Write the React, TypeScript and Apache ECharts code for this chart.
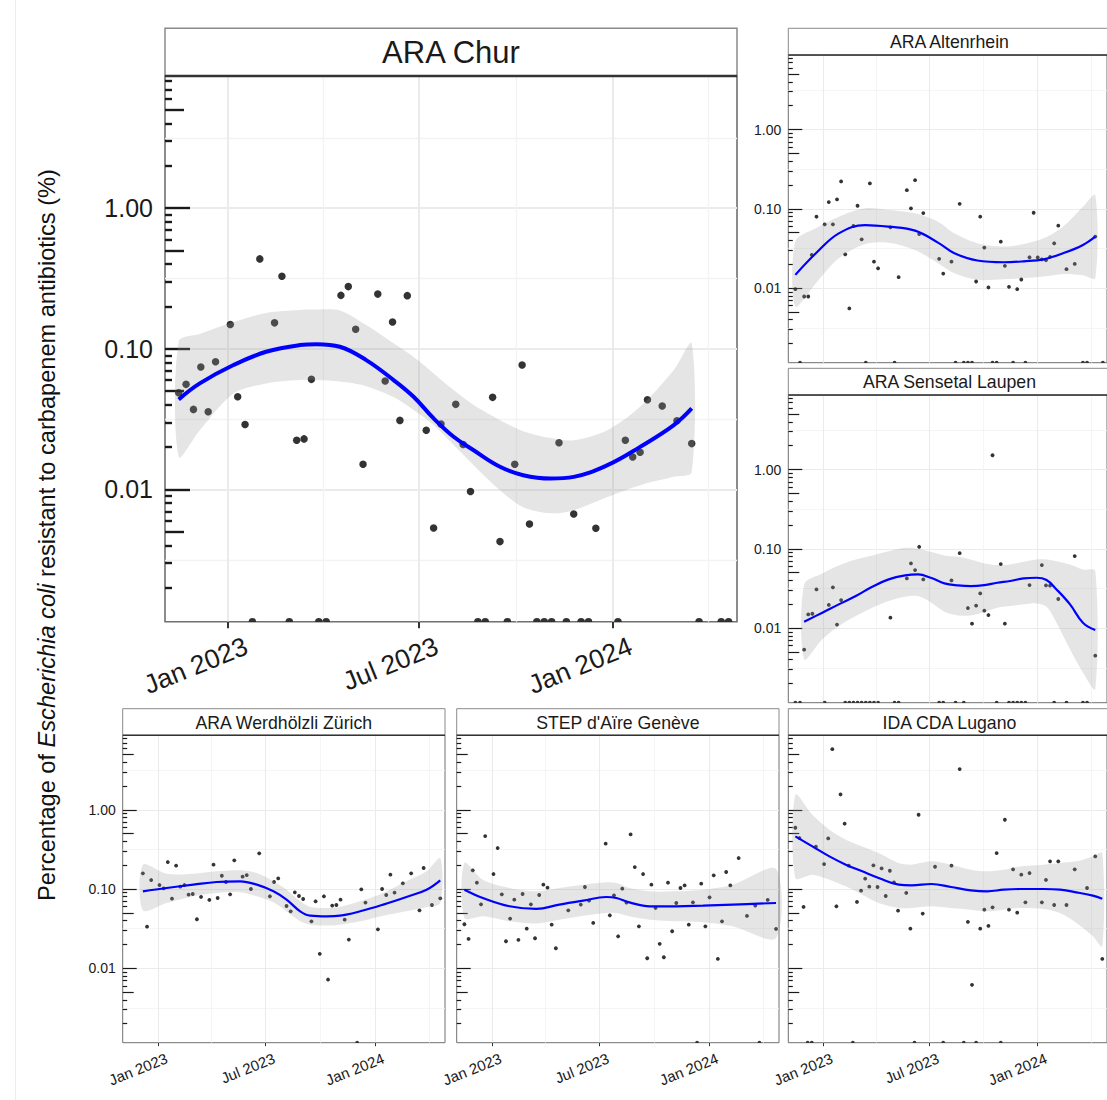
import React, { useEffect, useRef } from 'react';
import * as echarts from 'echarts';

// ---------------- ARA Chur ----------------
const churDates = ['2022-11-15','2022-11-22','2022-11-29','2022-12-06','2022-12-13','2022-12-20',
'2023-01-03','2023-01-10','2023-01-17','2023-01-24','2023-01-31','2023-02-14','2023-02-21','2023-02-28',
'2023-03-07','2023-03-14','2023-03-21','2023-03-28','2023-04-04','2023-04-18','2023-04-25',
'2023-05-02','2023-05-09','2023-05-23','2023-05-30','2023-06-06','2023-06-13','2023-06-20',
'2023-07-08','2023-07-15','2023-07-22','2023-08-05','2023-08-12','2023-08-19','2023-08-26',
'2023-09-02','2023-09-09','2023-09-16','2023-09-23','2023-09-30','2023-10-07','2023-10-14','2023-10-21','2023-10-28',
'2023-11-04','2023-11-11','2023-11-18','2023-11-25','2023-12-02','2023-12-09','2023-12-16',
'2024-01-06','2024-01-13','2024-01-20','2024-01-27','2024-02-03','2024-02-17',
'2024-03-02','2024-03-16','2024-03-23','2024-04-13','2024-04-20'];
const churValues = [0.0487,0.0559,0.0371,0.0742,0.0357,0.081,
0.149,0.0456,0.029,0,0.436,0.153,0.328,0,
0.0224,0.0229,0.0607,0,0,0.24,0.277,
0.138,0.0151,0.245,0.059,0.155,0.031,0.239,
0.0264,0.00533,0.0292,0.0403,0.0209,0.00968,0,
0,0.0452,0.00426,0,0.0151,0.0767,0.00569,0,0,
0,0.0215,0,0.0067,0,0,0.0053,
0,0.0224,0.017,0.0184,0.0434,0.0392,
0.0308,0.0212,0,0,0];
const churFitDates = ['2022-11-15','2022-12-05','2023-01-06','2023-02-06','2023-03-10','2023-03-26','2023-04-17',
'2023-05-12','2023-06-07','2023-06-26','2023-07-15','2023-08-03','2023-08-22','2023-09-16','2023-10-08',
'2023-11-03','2023-11-25','2023-12-27','2024-01-27','2024-02-28','2024-03-16'];
const churFit = [0.0437,0.0568,0.0767,0.0953,0.1064,0.108,0.1035,0.0832,0.06,0.0456,0.032,0.0237,0.019,0.0145,0.01264,0.01197,0.0123,0.0149,0.0201,0.0287,0.0377];
const churUpper = [0.1124,0.1274,0.155,0.18,0.189,0.1904,0.1873,0.1477,0.1094,0.0874,0.0669,0.0509,0.0398,0.0311,0.026,0.0232,0.0224,0.0264,0.0387,0.0706,0.1094];
const churLower = [0.0171,0.0264,0.0482,0.0568,0.06,0.06,0.0585,0.0543,0.0454,0.0367,0.0287,0.0207,0.0149,0.00988,0.00748,0.00678,0.00713,0.00885,0.01074,0.0123,0.0133];

// ---------------- ARA Altenrhein ----------------
const altDates = ['2022-11-14','2022-11-22','2022-11-29','2022-12-06','2022-12-12','2022-12-20',
'2023-01-03','2023-01-10','2023-01-17','2023-01-24','2023-01-31','2023-02-07','2023-02-14','2023-02-21','2023-02-28',
'2023-03-07','2023-03-14','2023-03-21','2023-03-28','2023-04-04','2023-04-25',
'2023-05-02','2023-05-09','2023-05-23','2023-05-30','2023-06-06','2023-06-13','2023-06-20',
'2023-07-17','2023-07-24','2023-08-07','2023-08-14','2023-08-21','2023-08-28',
'2023-09-04','2023-09-11','2023-09-18','2023-09-25','2023-10-02','2023-10-09','2023-10-16','2023-10-23','2023-10-30',
'2023-11-06','2023-11-13','2023-11-20','2023-11-27','2023-12-04','2023-12-11','2023-12-18','2023-12-25',
'2024-01-01','2024-01-08','2024-01-15','2024-01-22','2024-01-29','2024-02-05','2024-02-19',
'2024-03-04','2024-03-18','2024-03-25','2024-04-08','2024-04-21'];
const altValues = [0.0097,0,0.00785,0.00785,0.0262,0.0796,
0.0638,0.1216,0.0638,0.1315,0.2215,0.0267,0.00555,0.0608,0.1094,
0.0413,0,0.2094,0.0216,0.0178,0.0585,
0,0.01375,0.172,0.1014,0.2302,0.0482,0.0885,
0.0234,0.01528,0.0216,0,0.1158,0,
0,0,0.01213,0.0796,0.0325,0.0102,0,0,0.0386,
0.0191,0.0104,0,0.0097,0.01285,0,0.0245,0.0893,
0.0244,0.0231,0.0225,0.0248,0.0368,0.0614,0.01734,
0.0202,0,0,0.0447,0];
const altFitDates = ['2022-11-14','2022-12-19','2023-01-27','2023-03-13','2023-04-22','2023-06-06','2023-07-15','2023-08-12',
'2023-09-20','2023-11-04','2023-12-08','2024-01-11','2024-02-13','2024-03-18','2024-04-08'];
const altFit = [0.0147,0.0275,0.0491,0.0625,0.0596,0.0531,0.0375,0.0275,0.0223,0.0212,0.0218,0.0231,0.0275,0.0351,0.0447];
const altUpper = [0.0386,0.0568,0.0796,0.1014,0.0966,0.0877,0.0689,0.0491,0.0368,0.0334,0.036,0.0425,0.0596,0.1064,0.149];
const altLower = [0.00588,0.01156,0.0238,0.036,0.0375,0.0303,0.0206,0.0154,0.01273,0.01297,0.01336,0.014,0.0151,0.01456,0.01336];

// ---------------- ARA Sensetal Laupen ----------------
const senDates = ['2022-11-14','2022-11-22','2022-11-29','2022-12-06','2022-12-13','2022-12-20',
'2023-01-03','2023-01-10','2023-01-17','2023-01-24','2023-01-31','2023-02-07','2023-02-14','2023-02-21','2023-02-28',
'2023-03-07','2023-03-14','2023-03-21','2023-03-28','2023-04-04','2023-04-25',
'2023-05-02','2023-05-09','2023-05-23','2023-05-30','2023-06-06','2023-06-13','2023-06-20',
'2023-07-17','2023-07-24','2023-08-07','2023-08-14','2023-08-21','2023-08-28',
'2023-09-04','2023-09-11','2023-09-18','2023-09-25','2023-10-02','2023-10-09','2023-10-16','2023-10-23','2023-10-30',
'2023-11-06','2023-11-13','2023-11-20','2023-11-27','2023-12-04','2023-12-11','2023-12-18',
'2024-01-08','2024-01-15','2024-01-22','2024-01-29','2024-02-05','2024-02-19',
'2024-03-04','2024-03-18','2024-03-25','2024-04-08'];
const senValues = [0,0,0.00536,0.0149,0.0152,0.0308,
0,0.0196,0.0327,0.0111,0.0226,0,0,0,0,
0,0,0,0,0,0.01355,
0,0,0.0424,0.0655,0.054,0.1062,0.0412,
0,0,0.04,0,0.0883,0,
0.01794,0.01138,0.0192,0.0274,0.0166,0.01464,1.515,0,0.0643,
0.01138,0,0,0,0,0,0.0349,
0.0624,0.0346,0.0343,0,0.0233,0,
0.081,0,0,0.0045];
const senFitDates = ['2022-11-29','2022-12-30','2023-01-27','2023-02-25','2023-03-25','2023-04-22','2023-05-20','2023-06-11',
'2023-07-04','2023-07-26','2023-08-18','2023-09-09','2023-10-02','2023-10-24','2023-11-15','2023-12-08','2023-12-30',
'2024-01-16','2024-02-02','2024-02-25','2024-03-18','2024-04-08'];
const senFit = [0.01206,0.01567,0.01995,0.0254,0.0333,0.0412,0.0462,0.0476,0.0428,0.0367,0.0346,0.0339,0.0349,0.0374,0.0393,0.0424,0.0432,0.0404,0.0308,0.01995,0.01172,0.00947];
const senUpper = [0.0356,0.049,0.0618,0.0735,0.0826,0.0936,0.1031,0.1002,0.091,0.0826,0.0795,0.0735,0.0655,0.0624,0.0636,0.0687,0.0735,0.0735,0.07,0.0636,0.055,0.0524];
const senLower = [0.00405,0.00723,0.01064,0.01422,0.01811,0.022,0.0249,0.0254,0.0209,0.0161,0.01449,0.01449,0.01597,0.01811,0.019,0.01995,0.0205,0.0186,0.01172,0.0054,0.00275,0.0017];

// ---------------- ARA Werdhölzli Zürich ----------------
const zurDates = ['2022-12-06','2022-12-13','2022-12-20',
'2023-01-03','2023-01-10','2023-01-17','2023-01-24','2023-01-31','2023-02-07','2023-02-14','2023-02-21','2023-02-28',
'2023-03-07','2023-03-14','2023-03-28','2023-04-04','2023-04-11','2023-04-18','2023-04-25',
'2023-05-02','2023-05-09','2023-05-23','2023-05-30','2023-06-06','2023-06-20',
'2023-07-08','2023-07-15','2023-07-22','2023-08-05','2023-08-12','2023-08-19','2023-08-26',
'2023-09-02','2023-09-16','2023-09-23','2023-09-30','2023-10-07','2023-10-14','2023-10-21','2023-10-28',
'2023-11-04','2023-11-11','2023-11-18','2023-12-02','2023-12-09','2023-12-16',
'2024-01-06','2024-01-13','2024-01-20','2024-01-27','2024-02-03','2024-02-17',
'2024-03-02','2024-03-16','2024-03-23','2024-04-06','2024-04-20'];
const zurValues = [0.1575,0.0335,0.1298,
0.1122,0.102,0.219,0.0755,0.197,0.107,0.1122,0.0849,0.0865,
0.0415,0.0793,0.0727,0.203,0.077,0.147,0.1226,
0.0857,0.2298,0.143,0.15,0.1,0.282,
0.0809,0.1226,0.136,0.061,0.0523,0.0908,0.0816,
0.0748,0.0391,0.07,0.0152,0.0809,0.0072,0.0617,0.0628,
0.0734,0.041,0.023,0,0.099,0.0673,
0.031,0.1,0.084,0.1517,0.09,0.118,
0.1575,0.0538,0.184,0.0628,0.0762];
const zurFitDates = ['2022-12-06','2023-01-15','2023-03-01','2023-04-09','2023-05-19','2023-06-16','2023-07-14','2023-08-05',
'2023-08-28','2023-09-14','2023-10-12','2023-11-03','2023-12-07','2024-01-15','2024-02-23','2024-03-28','2024-04-20'];
const zurFit = [0.0935,0.103,0.1134,0.1226,0.125,0.1134,0.0935,0.0734,0.0523,0.0461,0.0452,0.0461,0.0523,0.0635,0.0793,0.098,0.1286];
const zurUpper = [0.2027,0.156,0.156,0.167,0.172,0.159,0.125,0.098,0.07,0.0593,0.0576,0.0593,0.07,0.0891,0.125,0.167,0.246];
const zurLower = [0.0538,0.0666,0.0809,0.0891,0.0908,0.0809,0.0679,0.0523,0.0391,0.0355,0.0345,0.0355,0.0391,0.0461,0.0523,0.0593,0.0666];

// ---------------- STEP d'Aïre Genève ----------------
const genDates = ['2022-11-15','2022-11-22','2022-11-29','2022-12-06','2022-12-13','2022-12-20',
'2023-01-03','2023-01-10','2023-01-17','2023-01-24','2023-01-31','2023-02-07','2023-02-14','2023-02-21','2023-02-28',
'2023-03-07','2023-03-14','2023-03-21','2023-03-28','2023-04-04','2023-04-11','2023-04-18',
'2023-05-09','2023-05-30','2023-06-06','2023-06-13','2023-06-20',
'2023-07-11','2023-07-18','2023-07-25','2023-08-01','2023-08-08','2023-08-15','2023-08-22','2023-08-29',
'2023-09-05','2023-09-12','2023-09-19','2023-09-26','2023-10-03','2023-10-10','2023-10-17','2023-10-24','2023-10-31',
'2023-11-07','2023-11-14','2023-11-21','2023-11-28','2023-12-05','2023-12-12','2023-12-19','2023-12-26',
'2024-01-02','2024-01-09','2024-01-16','2024-01-23','2024-01-30','2024-02-06','2024-02-20',
'2024-03-05','2024-03-19','2024-03-26','2024-04-09','2024-04-23'];
const genValues = [0.0359,0.0234,0.172,0.12,0.0641,0.466,
0.1545,0.329,0.0857,0.0219,0.0423,0.0734,0.0228,0.0865,0.0316,
0.0641,0.0239,0.084,0.1134,0.104,0.0355,0.01788,
0.0538,0.0635,0.106,0.0713,0.0373,
0.373,0.0466,0.0832,0.0253,0.101,0.0673,0.489,0.189,
0.0338,0.1545,0.01337,0.1134,0.0576,0.0203,0.01376,0.12,0.0293,
0.0666,0.103,0.111,0.0355,0.0679,0,0.1167,0.0338,
0.0785,0.1487,0.0131,0.0391,0.1638,0.111,0.246,
0.0457,0.0617,0,0.0727,0.0313];
const genFitDates = ['2022-11-15','2022-12-16','2023-01-30','2023-03-16','2023-04-24','2023-06-03','2023-07-12','2023-07-29',
'2023-08-20','2023-09-23','2023-11-07','2023-12-22','2024-02-10','2024-04-23'];
const genFit = [0.098,0.077,0.0605,0.056,0.0635,0.0713,0.0793,0.077,0.0679,0.0605,0.0605,0.0617,0.0635,0.0666];
const genUpper = [0.213,0.131,0.103,0.0935,0.103,0.1134,0.1213,0.119,0.103,0.0935,0.0935,0.098,0.1134,0.1788];
const genLower = [0.0431,0.0452,0.0391,0.0366,0.041,0.0461,0.0498,0.0498,0.0452,0.041,0.0391,0.038,0.0338,0.0241];

// ---------------- IDA CDA Lugano ----------------
const lugDates = ['2022-11-14','2022-11-21','2022-11-28','2022-12-05','2022-12-12','2022-12-19',
'2023-01-02','2023-01-09','2023-01-16','2023-01-23','2023-01-30','2023-02-06','2023-02-13','2023-02-20','2023-02-27',
'2023-03-06','2023-03-13','2023-03-20','2023-03-27','2023-04-03','2023-04-10','2023-04-17','2023-04-24',
'2023-05-01','2023-05-08','2023-05-22','2023-05-29','2023-06-05','2023-06-12','2023-06-19',
'2023-07-10','2023-07-24','2023-08-07','2023-08-21','2023-08-28',
'2023-09-04','2023-09-11','2023-09-18','2023-09-25','2023-10-02','2023-10-09','2023-10-16','2023-10-23','2023-10-30',
'2023-11-06','2023-11-13','2023-11-20','2023-11-27','2023-12-04','2023-12-11','2023-12-18',
'2024-01-08','2024-01-15','2024-01-22','2024-01-29','2024-02-05','2024-02-19',
'2024-03-04','2024-03-25','2024-04-08','2024-04-20'];
const lugValues = [0.593,0.44,0.0593,0,0,0.342,
0.2065,0.435,5.82,0.0605,1.56,0.667,0.197,0,0.0686,
0.0953,0.135,0.107,0.1988,0.106,0.182,0.0816,0.17,
0.1213,0.0533,0.0891,0.0316,0,0.865,0.0489,
0.191,0,0.197,3.26,0,
0.0384,0.00617,0,0.0316,0.0549,0.0342,0.0587,0.284,0,
0.748,0.0549,0.177,0.0503,0.1517,0.0679,0.159,
0.0679,0.13,0.2233,0.0628,0.2233,0.0628,
0.177,0.103,0.258,0.0131];
const lugFitDates = ['2022-11-14','2022-12-13','2023-01-11','2023-02-08','2023-03-08','2023-04-05','2023-05-09','2023-05-31',
'2023-07-04','2023-08-06','2023-09-09','2023-10-07','2023-11-04','2023-12-02','2024-01-11','2024-02-08','2024-03-07','2024-04-04','2024-04-20'];
const lugFit = [0.461,0.345,0.258,0.203,0.167,0.1377,0.1134,0.111,0.1156,0.106,0.0962,0.0935,0.098,0.1,0.1,0.098,0.0908,0.0824,0.0755];
const lugUpper = [1.545,0.865,0.56,0.419,0.345,0.284,0.213,0.203,0.2233,0.203,0.175,0.167,0.175,0.193,0.203,0.213,0.2233,0.258,0.284];
const lugLower = [0.1377,0.1517,0.131,0.108,0.0849,0.0666,0.0576,0.0576,0.0605,0.0576,0.0549,0.0523,0.0549,0.0576,0.056,0.0498,0.0373,0.0253,0.0189];

// ---------------- axes ----------------
const xMajorTicks = ['2023-01-01', '2023-07-01', '2024-01-01'];
const xMinorTicks = ['2023-04-01', '2023-10-01', '2024-04-01'];
const xRange = ['2022-11-02', '2024-04-28'];
const yMajorTicks = [0.01, 0.1, 1];
const yMidTicks = [0.005, 0.05, 0.5, 5];
const yShortTicks = [0.002, 0.003, 0.004, 0.006, 0.007, 0.008, 0.009, 0.02, 0.03, 0.04, 0.06, 0.07, 0.08, 0.09,
  0.2, 0.3, 0.4, 0.6, 0.7, 0.8, 0.9, 2, 3, 4, 6, 7, 8];
const yMinorGrid = [0.0031623, 0.031623, 0.31623, 3.1623];
const yRange = [0.001148, 8.71];

const MONTHS = ['Jan', 'Feb', 'Mar', 'Apr', 'May', 'Jun', 'Jul', 'Aug', 'Sep', 'Oct', 'Nov', 'Dec'];
const FONT = '"Liberation Sans", Arial, Helvetica, sans-serif';
const ts = (s: string) => {
  const [y, m, d] = s.split('-').map(Number);
  return new Date(y, m - 1, d).getTime();
};

const panels = [
  { title: 'ARA Chur', dates: churDates, values: churValues, fitDates: churFitDates, fit: churFit, upper: churUpper, lower: churLower,
    left: 165, top: 76, width: 572, height: 545.7, stripTop: 28.3, big: true, showX: true, showY: true },
  { title: 'ARA Altenrhein', dates: altDates, values: altValues, fitDates: altFitDates, fit: altFit, upper: altUpper, lower: altLower,
    left: 788.3, top: 55, width: 322.3, height: 307.7, stripTop: 28.3, big: false, showX: false, showY: true },
  { title: 'ARA Sensetal Laupen', dates: senDates, values: senValues, fitDates: senFitDates, fit: senFit, upper: senUpper, lower: senLower,
    left: 788.3, top: 395, width: 322.3, height: 307.7, stripTop: 368.3, big: false, showX: false, showY: true },
  { title: 'ARA Werdhölzli Zürich', dates: zurDates, values: zurValues, fitDates: zurFitDates, fit: zurFit, upper: zurUpper, lower: zurLower,
    left: 122.7, top: 735.3, width: 322.3, height: 307.4, stripTop: 708.7, big: false, showX: true, showY: true },
  { title: "STEP d'Aïre Genève", dates: genDates, values: genValues, fitDates: genFitDates, fit: genFit, upper: genUpper, lower: genLower,
    left: 456.7, top: 735.3, width: 322.3, height: 307.4, stripTop: 708.7, big: false, showX: true, showY: false },
  { title: 'IDA CDA Lugano', dates: lugDates, values: lugValues, fitDates: lugFitDates, fit: lugFit, upper: lugUpper, lower: lugLower,
    left: 788.3, top: 735.3, width: 322.3, height: 307.4, stripTop: 708.7, big: false, showX: true, showY: false },
];

function buildOption() {
  const grid: any[] = [];
  const xAxis: any[] = [];
  const yAxis: any[] = [];
  const series: any[] = [];
  const elements: any[] = [];
  const xMin = ts(xRange[0]);
  const xMax = ts(xRange[1]);

  panels.forEach((p, i) => {
    const big = p.big;
    grid.push({ left: p.left, top: p.top, width: p.width, height: p.height, show: true,
      borderColor: '#707070', borderWidth: big ? 1.6 : 1, backgroundColor: 'rgba(0,0,0,0)' });

    // linear axis over timestamps (ms)
    const xBase = { type: 'value', gridIndex: i, min: xMin, max: xMax, position: 'bottom', axisLine: { show: false } };
    xAxis.push({
      ...xBase,
      axisTick: { show: p.showX, customValues: xMajorTicks.map(ts), length: big ? 6.5 : 3.5,
        lineStyle: { color: '#333', width: big ? 2 : 1 } },
      axisLabel: { show: p.showX, customValues: xMajorTicks.map(ts), rotate: 22, align: 'right', verticalAlign: 'top',
        margin: big ? 16 : 10, fontSize: big ? 26.5 : 15, color: '#1a1a1a', fontFamily: FONT,
        padding: big ? [0, -14, 0, 0] : [0, -6, 0, 0],
        formatter: (v: number) => { const d = new Date(v); return MONTHS[d.getMonth()] + ' ' + d.getFullYear(); } },
      splitLine: { show: true, lineStyle: { color: '#ebebeb', width: big ? 2 : 1.1 } },
    });
    xAxis.push({
      ...xBase,
      axisTick: { show: false, customValues: xMinorTicks.map(ts) },
      axisLabel: { show: false },
      splitLine: { show: true, lineStyle: { color: '#f3f3f3', width: big ? 1.3 : 0.8 } },
    });

    const yBase = { type: 'log', logBase: 10, gridIndex: i, min: yRange[0], max: yRange[1], position: 'left', axisLine: { show: false } };
    const tickColor = '#1a1a1a';
    const tw = big ? 2.4 : 1.2;
    yAxis.push({
      ...yBase,
      axisTick: { show: true, inside: true, customValues: yMajorTicks, length: big ? 25 : 14, lineStyle: { color: tickColor, width: tw } },
      axisLabel: { show: p.showY, customValues: yMajorTicks, formatter: (v: number) => Number(v).toFixed(2),
        fontSize: big ? 25 : 14, color: '#1a1a1a', margin: big ? 12 : 7, fontFamily: FONT },
      splitLine: { show: true, lineStyle: { color: '#ebebeb', width: big ? 2 : 1.1 } },
    });
    yAxis.push({
      ...yBase,
      axisTick: { show: true, inside: true, customValues: yMidTicks, length: big ? 19 : 11, lineStyle: { color: tickColor, width: tw } },
      axisLabel: { show: false }, splitLine: { show: false },
    });
    yAxis.push({
      ...yBase,
      axisTick: { show: true, inside: true, customValues: yShortTicks, length: big ? 7 : 4.5, lineStyle: { color: tickColor, width: tw } },
      axisLabel: { show: false }, splitLine: { show: false },
    });
    yAxis.push({
      ...yBase,
      axisTick: { show: false, customValues: yMinorGrid },
      axisLabel: { show: false },
      splitLine: { show: true, lineStyle: { color: '#f3f3f3', width: big ? 1.3 : 0.8 } },
    });

    const xi = i * 2;
    const yi = i * 4;
    const dot = big ? 7.5 : 3.8;
    const pos: any[] = [];
    const zero: any[] = [];
    p.dates.forEach((d, k) => {
      const v = p.values[k];
      if (v > 0) pos.push([ts(d), v]);
      else zero.push([ts(d), yRange[0]]);
    });
    series.push({ type: 'scatter', xAxisIndex: xi, yAxisIndex: yi, data: pos, symbolSize: dot, silent: true,
      itemStyle: { color: '#000' }, z: 2 });
    series.push({ type: 'scatter', xAxisIndex: xi, yAxisIndex: yi, data: zero, clip: false, silent: true,
      symbol: 'path://M0,10 A10,10 0 0 1 20,10 Z', symbolSize: [dot, dot / 2], symbolOffset: [0, '-50%'],
      itemStyle: { color: '#000' }, z: 2 });
    const bandRows = p.fitDates.map((d, k) => [ts(d), p.lower[k], p.upper[k]]);
    series.push({
      type: 'custom', xAxisIndex: xi, yAxisIndex: yi, data: bandRows, silent: true, z: 3,
      encode: { x: 0, y: [1, 2] },
      renderItem: (params: any, api: any) => {
        if (params.dataIndex !== 0) return null;
        const pts: number[][] = [];
        bandRows.forEach((r) => pts.push(api.coord([r[0], r[2]])));
        for (let k = bandRows.length - 1; k >= 0; k--) pts.push(api.coord([bandRows[k][0], bandRows[k][1]]));
        return { type: 'polygon', shape: { points: pts, smooth: 0.3 }, style: { fill: 'rgba(153,153,153,0.25)' } };
      },
    });
    series.push({ type: 'line', xAxisIndex: xi, yAxisIndex: yi, data: p.fitDates.map((d, k) => [ts(d), p.fit[k]]),
      smooth: 0.4, showSymbol: false, symbol: 'none', silent: true, z: 4,
      lineStyle: { color: '#0000ff', width: big ? 4 : 2.2 } });

    // facet strip
    const sh = p.top - p.stripTop;
    elements.push({ type: 'rect', z: 10, shape: { x: p.left, y: p.stripTop, width: p.width, height: sh },
      style: { fill: '#fff', stroke: '#8a8a8a', lineWidth: big ? 1.5 : 1 } });
    elements.push({ type: 'line', z: 11, shape: { x1: p.left, y1: p.top, x2: p.left + p.width, y2: p.top },
      style: { stroke: '#333', lineWidth: big ? 2.4 : 1.4 } });
    elements.push({ type: 'text', z: 12, x: p.left + p.width / 2, y: p.stripTop + sh / 2 + 0.5,
      style: { text: p.title, fontSize: big ? 31 : 17.7, fontFamily: FONT, fill: '#1a1a1a', align: 'center', verticalAlign: 'middle' } });
  });

  elements.push({ type: 'line', z: 1, shape: { x1: 15.5, y1: 0, x2: 15.5, y2: 1100 }, style: { stroke: '#ececec', lineWidth: 1 } });
  elements.push({ type: 'text', z: 12, x: 47, y: 535, rotation: Math.PI / 2,
    style: { text: 'Percentage of {i|Escherichia coli} resistant to carbapenem antibiotics (%)',
      fontSize: 23.6, fontFamily: FONT, fill: '#111', align: 'center', verticalAlign: 'middle',
      rich: { i: { fontStyle: 'italic', fontSize: 23.6, fontFamily: FONT, fill: '#111' } } } });

  return {
    animation: false,
    backgroundColor: '#fff',
    textStyle: { fontFamily: FONT },
    grid, xAxis, yAxis, series,
    graphic: { elements },
  };
}

export default function App() {
  const ref = useRef<HTMLDivElement>(null);
  useEffect(() => {
    const chart = echarts.init(ref.current as HTMLDivElement, null, { renderer: 'svg' });
    chart.setOption(buildOption() as any);
    return () => chart.dispose();
  }, []);
  return <div ref={ref} style={{ position: 'absolute', left: 0, top: 0, width: 1107, height: 1100, background: '#fff' }} />;
}
